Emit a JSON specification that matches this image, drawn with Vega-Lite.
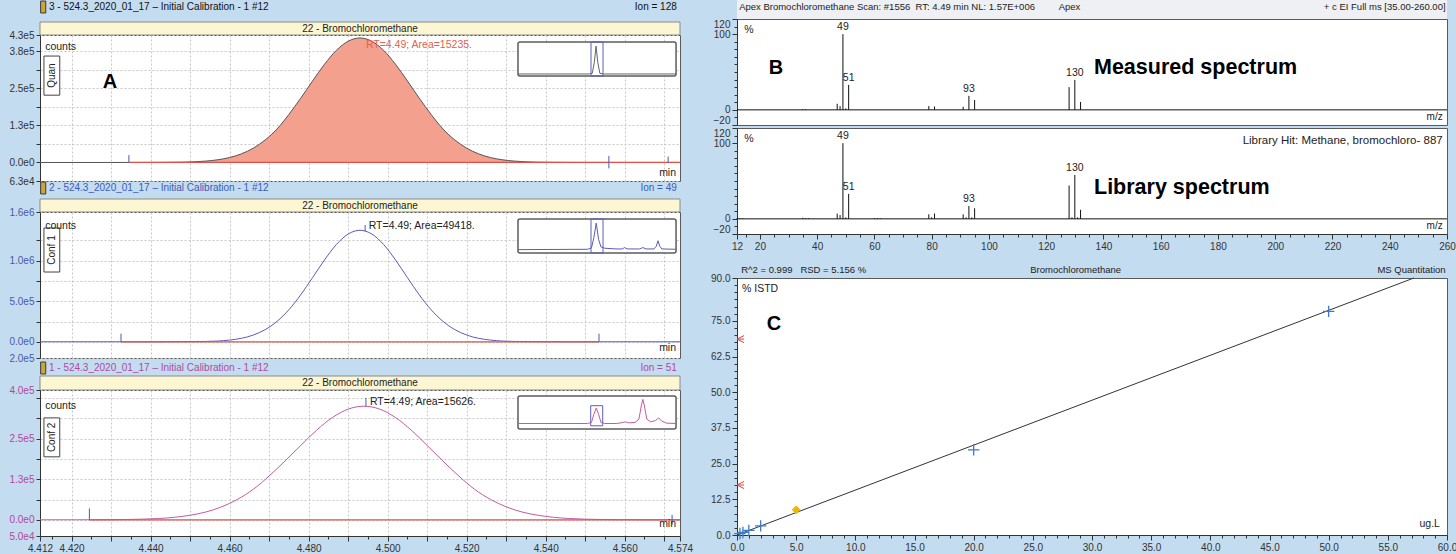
{
"$schema": "https://vega.github.io/schema/vega-lite/v6.json",
"padding": {"left": 8, "top": 0, "right": 0, "bottom": 0},
"background": "#c4dcf0",
"bounds": "full",
"spacing": 16,
"datasets": {
 "quan": [{"t":4.412,"c":0},{"t":4.43,"c":0},{"t":4.442,"c":200},{"t":4.448,"c":1000},{"t":4.451,"c":2300},{"t":4.454,"c":4700},{"t":4.457,"c":9100},{"t":4.46,"c":16700},{"t":4.463,"c":29200},{"t":4.466,"c":48300},{"t":4.469,"c":76000},{"t":4.472,"c":113000},{"t":4.475,"c":162000},{"t":4.478,"c":217000},{"t":4.481,"c":275000},{"t":4.484,"c":331000},{"t":4.487,"c":378000},{"t":4.49,"c":409000},{"t":4.493,"c":420000},{"t":4.496,"c":409000},{"t":4.499,"c":378000},{"t":4.502,"c":331000},{"t":4.505,"c":275000},{"t":4.508,"c":217000},{"t":4.511,"c":162000},{"t":4.514,"c":113000},{"t":4.517,"c":76000},{"t":4.52,"c":48300},{"t":4.523,"c":29200},{"t":4.526,"c":16700},{"t":4.529,"c":9100},{"t":4.532,"c":4700},{"t":4.535,"c":2300},{"t":4.538,"c":1000},{"t":4.545,"c":200},{"t":4.556,"c":0},{"t":4.574,"c":0}],
 "conf1": [{"t":4.412,"c":0},{"t":4.44,"c":0},{"t":4.45,"c":1500},{"t":4.454,"c":4000},{"t":4.457,"c":9000},{"t":4.46,"c":21000},{"t":4.463,"c":43000},{"t":4.466,"c":83000},{"t":4.469,"c":150000},{"t":4.472,"c":252000},{"t":4.475,"c":395000},{"t":4.478,"c":579000},{"t":4.481,"c":791000},{"t":4.484,"c":1008000},{"t":4.487,"c":1198000},{"t":4.49,"c":1328000},{"t":4.493,"c":1375000},{"t":4.496,"c":1328000},{"t":4.499,"c":1198000},{"t":4.502,"c":1008000},{"t":4.505,"c":791000},{"t":4.508,"c":579000},{"t":4.511,"c":395000},{"t":4.514,"c":252000},{"t":4.517,"c":150000},{"t":4.52,"c":83000},{"t":4.523,"c":43000},{"t":4.526,"c":21000},{"t":4.529,"c":9000},{"t":4.532,"c":4000},{"t":4.536,"c":1500},{"t":4.546,"c":0},{"t":4.574,"c":0}],
 "conf2": [{"t":4.412,"c":0},{"t":4.425,"c":0},{"t":4.43,"c":400},{"t":4.434,"c":900},{"t":4.438,"c":1900},{"t":4.442,"c":3900},{"t":4.446,"c":7600},{"t":4.45,"c":14000},{"t":4.454,"c":24000},{"t":4.458,"c":40000},{"t":4.462,"c":63000},{"t":4.466,"c":94000},{"t":4.47,"c":135000},{"t":4.474,"c":181000},{"t":4.478,"c":229000},{"t":4.482,"c":276000},{"t":4.486,"c":315000},{"t":4.49,"c":341000},{"t":4.494,"c":350000},{"t":4.498,"c":341000},{"t":4.502,"c":315000},{"t":4.506,"c":276000},{"t":4.51,"c":229000},{"t":4.514,"c":181000},{"t":4.518,"c":135000},{"t":4.522,"c":94000},{"t":4.526,"c":63000},{"t":4.53,"c":40000},{"t":4.534,"c":24000},{"t":4.538,"c":14000},{"t":4.542,"c":7600},{"t":4.546,"c":3900},{"t":4.55,"c":1900},{"t":4.554,"c":900},{"t":4.558,"c":400},{"t":4.565,"c":0},{"t":4.574,"c":0}],
 "meas": [{"mz":35,"i":1},{"mz":36,"i":0.8},{"mz":47,"i":8},{"mz":48,"i":5},{"mz":49,"i":100},{"mz":50,"i":2},{"mz":51,"i":33},{"mz":79,"i":5},{"mz":81,"i":4.5},{"mz":91,"i":4},{"mz":93,"i":18.5},{"mz":95,"i":13},{"mz":128,"i":30},{"mz":130,"i":39.6},{"mz":132,"i":10.5}],
 "lib": [{"mz":12,"i":1},{"mz":13,"i":1},{"mz":14,"i":1},{"mz":35,"i":1.5},{"mz":36,"i":1},{"mz":37,"i":1},{"mz":47,"i":7},{"mz":48,"i":5},{"mz":49,"i":100},{"mz":50,"i":2},{"mz":51,"i":33},{"mz":60,"i":1},{"mz":61,"i":1},{"mz":62,"i":1},{"mz":79,"i":6},{"mz":80,"i":2},{"mz":81,"i":7},{"mz":91,"i":6},{"mz":92,"i":2},{"mz":93,"i":17},{"mz":94,"i":2},{"mz":95,"i":14},{"mz":128,"i":44},{"mz":129,"i":2},{"mz":130,"i":58},{"mz":131,"i":2},{"mz":132,"i":12}]
},
"hconcat": [
 {"spacing": 0, "bounds": "flush", "vconcat": [
  {"width": 640, "height": 35, "view": {"fill": null, "stroke": null},
   "encoding": {"x": {"field": "x", "type": "quantitative", "scale": {"domain": [0, 1], "nice": false}, "axis": null}, "y": {"field": "y", "type": "quantitative", "scale": {"domain": [0, 35], "nice": false}, "axis": null}},
   "layer": [
    {"data": {"values": [{"x": 0, "x2": 1, "y": 0, "y2": 13}]}, "mark": {"type": "rect", "fill": "#fdf6d3", "stroke": "#8a8a8a", "strokeWidth": 1}, "encoding": {"x2": {"field": "x2"}, "y2": {"field": "y2"}}},
    {"data": {"values": [{"x": 0.001, "x2": 0.009, "y": 22, "y2": 34}]}, "mark": {"type": "rect", "fill": "#c9a63a", "stroke": "#3a3a3a", "strokeWidth": 1}, "encoding": {"x2": {"field": "x2"}, "y2": {"field": "y2"}}},
    {"data": {"values": [{"x": 0.5, "y": 6.5, "s": "22 - Bromochloromethane"}]}, "mark": {"type": "text", "fontSize": 10, "color": "#222"}, "encoding": {"text": {"field": "s"}}},
    {"data": {"values": [{"x": 0.014, "y": 28, "s": "3 - 524.3_2020_01_17 – Initial Calibration - 1 #12"}]}, "mark": {"type": "text", "align": "left", "fontSize": 10, "color": "#111"}, "encoding": {"text": {"field": "s"}}},
    {"data": {"values": [{"x": 0.995, "y": 28, "s": "Ion = 128"}]}, "mark": {"type": "text", "align": "right", "fontSize": 10, "color": "#111"}, "encoding": {"text": {"field": "s"}}}
   ]},
  {"width": 640, "height": 146,
   "resolve": {"scale": {"x": "independent", "y": "independent"}},
   "layer": [
    {"encoding": {
      "x": {"field": "t", "type": "quantitative", "title": null, "scale": {"domain": [4.412, 4.574], "nice": false, "zero": false}, "axis": {"title": null, "values": [4.42,4.43,4.44,4.45,4.46,4.47,4.48,4.49,4.5,4.51,4.52,4.53,4.54,4.55,4.56,4.57], "labels": false, "ticks": false, "domain": false, "grid": true}},
      "y": {"field": "c", "type": "quantitative", "title": null, "scale": {"domain": [-62500, 430000], "nice": false, "zero": false}, "axis": {"title": null, "grid": true, "values": [-62500, 0, 62500, 125000, 187500, 250000, 312500, 375000, 430000], "labelExpr": "datum.value==430000?'4.3e5':datum.value==375000?'3.8e5':datum.value==250000?'2.5e5':datum.value==125000?'1.3e5':datum.value==0?'0.0e0':datum.value==-62500?'6.3e4':''", "labelColor": "#333"}}},
     "layer": [
      {"data": {"name": "quan"}, "mark": {"type": "area", "color": "#f4a08f", "interpolate": "monotone"}, "encoding": {"y2": {"datum": 0}}},
      {"data": {"name": "quan"}, "mark": {"type": "line", "color": "#555555", "strokeWidth": 1, "interpolate": "monotone"}},
      {"data": {"values": [{"t": 4.4345, "t2": 4.574, "c": 0}]}, "mark": {"type": "rule", "color": "#e0514a", "strokeWidth": 1.3}, "encoding": {"x2": {"field": "t2"}}},
      {"data": {"values": [{"t": 4.4345, "c": 0, "c2": 25000}, {"t": 4.556, "c": -20000, "c2": 22000}, {"t": 4.571, "c": 0, "c2": 20000}]}, "mark": {"type": "rule", "color": "#4a5bb0"}, "encoding": {"y2": {"field": "c2"}}},
      {"data": {"values": [{"t": 4.413, "t2": 4.417, "c": 227000, "c2": 359000}]}, "mark": {"type": "rect", "fill": "white", "stroke": "#444", "strokeWidth": 1}, "encoding": {"x2": {"field": "t2"}, "y2": {"field": "c2"}}},
      {"data": {"values": [{"t": 4.415, "c": 293000, "s": "Quan"}]}, "mark": {"type": "text", "angle": 270, "fontSize": 10}, "encoding": {"text": {"field": "s"}}},
      {"data": {"values": [{"t": 4.4133, "c": 390000, "s": "counts"}]}, "mark": {"type": "text", "align": "left", "fontSize": 10.5}, "encoding": {"text": {"field": "s"}}},
      {"data": {"values": [{"t": 4.4945, "c": 396000, "s": "RT=4.49; Area=15235."}]}, "mark": {"type": "text", "align": "left", "fontSize": 10.5, "color": "#e5604d"}, "encoding": {"text": {"field": "s"}}},
      {"data": {"values": [{"t": 4.573, "c": -36000, "s": "min"}]}, "mark": {"type": "text", "align": "right", "fontSize": 10.5}, "encoding": {"text": {"field": "s"}}},
      {"data": {"values": [{"t": 4.4297, "c": 271000, "s": "A"}]}, "mark": {"type": "text", "fontSize": 20, "fontWeight": "bold", "font": "Liberation Sans", "color": "#000"}, "encoding": {"text": {"field": "s"}}}
     ]},
    {"encoding": {
      "x": {"field": "u", "type": "quantitative", "scale": {"domain": [-302.4, 102.5], "nice": false, "zero": false}, "axis": null},
      "y": {"field": "v", "type": "quantitative", "scale": {"domain": [-308.6, 120.6], "nice": false, "zero": false}, "axis": null}},
     "layer": [
      {"data": {"values": [{"u": 0, "u2": 100, "v": 0, "v2": 100}]}, "mark": {"type": "rect", "fill": "white", "stroke": "#5c5c5c", "strokeWidth": 1.5, "cornerRadius": 2}, "encoding": {"x2": {"field": "u2"}, "y2": {"field": "v2"}}},
      {"data": {"values": [{"u": 46.2, "u2": 53.8, "v": 0, "v2": 100}]}, "mark": {"type": "rect", "fill": "white", "fillOpacity": 0, "stroke": "#5b5fc4", "strokeWidth": 1}, "encoding": {"x2": {"field": "u2"}, "y2": {"field": "v2"}}},
      {"data": {"values": [{"u":0,"v":6},{"u":45,"v":6},{"u":47,"v":8},{"u":48.3,"v":40},{"u":49.4,"v":88},{"u":50.5,"v":40},{"u":51.8,"v":8},{"u":54,"v":6},{"u":100,"v":6}]}, "mark": {"type": "line", "color": "#666", "strokeWidth": 1}}
     ]}
   ]},
  {"width": 640, "height": 31, "view": {"fill": null, "stroke": null},
   "encoding": {"x": {"field": "x", "type": "quantitative", "scale": {"domain": [0, 1], "nice": false}, "axis": null}, "y": {"field": "y", "type": "quantitative", "scale": {"domain": [0, 31], "nice": false}, "axis": null}},
   "layer": [
    {"data": {"values": [{"x": 0, "x2": 1, "y": 0, "y2": 13}]}, "mark": {"type": "rect", "fill": "#fdf6d3", "stroke": "#8a8a8a", "strokeWidth": 1}, "encoding": {"x2": {"field": "x2"}, "y2": {"field": "y2"}}},
    {"data": {"values": [{"x": 0.001, "x2": 0.009, "y": 18, "y2": 30}]}, "mark": {"type": "rect", "fill": "#c9a63a", "stroke": "#3a3a3a", "strokeWidth": 1}, "encoding": {"x2": {"field": "x2"}, "y2": {"field": "y2"}}},
    {"data": {"values": [{"x": 0.5, "y": 6.5, "s": "22 - Bromochloromethane"}]}, "mark": {"type": "text", "fontSize": 10, "color": "#222"}, "encoding": {"text": {"field": "s"}}},
    {"data": {"values": [{"x": 0.014, "y": 24, "s": "2 - 524.3_2020_01_17 – Initial Calibration - 1 #12"}]}, "mark": {"type": "text", "align": "left", "fontSize": 10, "color": "#3d5bb8"}, "encoding": {"text": {"field": "s"}}},
    {"data": {"values": [{"x": 0.995, "y": 24, "s": "Ion = 49"}]}, "mark": {"type": "text", "align": "right", "fontSize": 10, "color": "#3d5bb8"}, "encoding": {"text": {"field": "s"}}}
   ]},
  {"width": 640, "height": 146,
   "resolve": {"scale": {"x": "independent", "y": "independent"}},
   "layer": [
    {"encoding": {
      "x": {"field": "t", "type": "quantitative", "title": null, "scale": {"domain": [4.412, 4.574], "nice": false, "zero": false}, "axis": {"title": null, "values": [4.42,4.43,4.44,4.45,4.46,4.47,4.48,4.49,4.5,4.51,4.52,4.53,4.54,4.55,4.56,4.57], "labels": false, "ticks": false, "domain": false, "grid": true}},
      "y": {"field": "c", "type": "quantitative", "title": null, "scale": {"domain": [-200000, 1600000], "nice": false, "zero": false}, "axis": {"title": null, "grid": true, "values": [-200000, 0, 250000, 500000, 750000, 1000000, 1250000, 1600000], "labelExpr": "datum.value==1600000?'1.6e6':datum.value==1000000?'1.0e6':datum.value==500000?'5.0e5':datum.value==0?'0.0e0':datum.value==-200000?'2.0e5':''", "labelColor": "#4b58ab"}}},
     "layer": [
      {"data": {"name": "conf1"}, "mark": {"type": "line", "color": "#5b5cb3", "strokeWidth": 1, "interpolate": "monotone"}},
      {"data": {"values": [{"t": 4.4325, "t2": 4.5535, "c": 0}]}, "mark": {"type": "rule", "color": "#e0514a", "strokeWidth": 1.3}, "encoding": {"x2": {"field": "t2"}}},
      {"data": {"values": [{"t": 4.4325, "c": 0, "c2": 100000}, {"t": 4.5535, "c": 0, "c2": 100000}, {"t": 4.4943, "c": 1360000, "c2": 1440000}]}, "mark": {"type": "rule", "color": "#4a5bb0"}, "encoding": {"y2": {"field": "c2"}}},
      {"data": {"values": [{"t": 4.413, "t2": 4.417, "c": 860000, "c2": 1403000}]}, "mark": {"type": "rect", "fill": "white", "stroke": "#444", "strokeWidth": 1}, "encoding": {"x2": {"field": "t2"}, "y2": {"field": "c2"}}},
      {"data": {"values": [{"t": 4.415, "c": 1131000, "s": "Conf 1"}]}, "mark": {"type": "text", "angle": 270, "fontSize": 10}, "encoding": {"text": {"field": "s"}}},
      {"data": {"values": [{"t": 4.4133, "c": 1428000, "s": "counts"}]}, "mark": {"type": "text", "align": "left", "fontSize": 10.5}, "encoding": {"text": {"field": "s"}}},
      {"data": {"values": [{"t": 4.4952, "c": 1428000, "s": "RT=4.49; Area=49418."}]}, "mark": {"type": "text", "align": "left", "fontSize": 10.5, "color": "#222"}, "encoding": {"text": {"field": "s"}}},
      {"data": {"values": [{"t": 4.573, "c": -76000, "s": "min"}]}, "mark": {"type": "text", "align": "right", "fontSize": 10.5}, "encoding": {"text": {"field": "s"}}}
     ]},
    {"encoding": {
      "x": {"field": "u", "type": "quantitative", "scale": {"domain": [-302.4, 102.5], "nice": false, "zero": false}, "axis": null},
      "y": {"field": "v", "type": "quantitative", "scale": {"domain": [-308.6, 120.6], "nice": false, "zero": false}, "axis": null}},
     "layer": [
      {"data": {"values": [{"u": 0, "u2": 100, "v": 0, "v2": 100}]}, "mark": {"type": "rect", "fill": "white", "stroke": "#5c5c5c", "strokeWidth": 1.5, "cornerRadius": 2}, "encoding": {"x2": {"field": "u2"}, "y2": {"field": "v2"}}},
      {"data": {"values": [{"u": 46.2, "u2": 53.8, "v": 0, "v2": 100}]}, "mark": {"type": "rect", "fill": "white", "fillOpacity": 0, "stroke": "#5b5fc4", "strokeWidth": 1}, "encoding": {"x2": {"field": "u2"}, "y2": {"field": "v2"}}},
      {"data": {"values": [{"u":0,"v":10},{"u":44,"v":11},{"u":46.5,"v":15},{"u":48,"v":45},{"u":49.5,"v":88},{"u":51,"v":40},{"u":52.5,"v":18},{"u":55,"v":14},{"u":62,"v":12},{"u":66,"v":12},{"u":67.5,"v":16},{"u":69,"v":12},{"u":77,"v":12},{"u":79,"v":16},{"u":81,"v":12},{"u":86,"v":12},{"u":87.5,"v":20},{"u":88.6,"v":36},{"u":89.7,"v":20},{"u":91,"v":12},{"u":100,"v":11}]}, "mark": {"type": "line", "color": "#5b5cb3", "strokeWidth": 1}}
     ]}
   ]},
  {"width": 640, "height": 32, "view": {"fill": null, "stroke": null},
   "encoding": {"x": {"field": "x", "type": "quantitative", "scale": {"domain": [0, 1], "nice": false}, "axis": null}, "y": {"field": "y", "type": "quantitative", "scale": {"domain": [0, 32], "nice": false}, "axis": null}},
   "layer": [
    {"data": {"values": [{"x": 0, "x2": 1, "y": 0, "y2": 14}]}, "mark": {"type": "rect", "fill": "#fdf6d3", "stroke": "#8a8a8a", "strokeWidth": 1}, "encoding": {"x2": {"field": "x2"}, "y2": {"field": "y2"}}},
    {"data": {"values": [{"x": 0.001, "x2": 0.009, "y": 16, "y2": 28}]}, "mark": {"type": "rect", "fill": "#c9a63a", "stroke": "#3a3a3a", "strokeWidth": 1}, "encoding": {"x2": {"field": "x2"}, "y2": {"field": "y2"}}},
    {"data": {"values": [{"x": 0.5, "y": 7, "s": "22 - Bromochloromethane"}]}, "mark": {"type": "text", "fontSize": 10, "color": "#222"}, "encoding": {"text": {"field": "s"}}},
    {"data": {"values": [{"x": 0.014, "y": 22, "s": "1 - 524.3_2020_01_17 – Initial Calibration - 1 #12"}]}, "mark": {"type": "text", "align": "left", "fontSize": 10, "color": "#b04a9c"}, "encoding": {"text": {"field": "s"}}},
    {"data": {"values": [{"x": 0.995, "y": 22, "s": "Ion = 51"}]}, "mark": {"type": "text", "align": "right", "fontSize": 10, "color": "#b04a9c"}, "encoding": {"text": {"field": "s"}}}
   ]},
  {"width": 640, "height": 146,
   "resolve": {"scale": {"x": "independent", "y": "independent"}},
   "layer": [
    {"encoding": {
      "x": {"field": "t", "type": "quantitative", "title": null, "scale": {"domain": [4.412, 4.574], "nice": false, "zero": false}, "axis": {"title": null, "values": [4.412,4.415,4.42,4.425,4.43,4.435,4.44,4.445,4.45,4.455,4.46,4.465,4.47,4.475,4.48,4.485,4.49,4.495,4.5,4.505,4.51,4.515,4.52,4.525,4.53,4.535,4.54,4.545,4.55,4.555,4.56,4.565,4.57,4.574], "labelExpr": "(round(datum.value*1000) % 20 == 0 || round(datum.value*1000) == 4412 || round(datum.value*1000) == 4574) ? format(datum.value, '.3f') : ''", "grid": true, "gridOpacity": {"condition": {"test": "round(datum.value*1000) % 10 == 0", "value": 1}, "value": 0}, "tickSize": {"condition": {"test": "round(datum.value*1000) % 10 == 0 || round(datum.value*1000) == 4412 || round(datum.value*1000) == 4574", "value": 5}, "value": 3}}},
      "y": {"field": "c", "type": "quantitative", "title": null, "scale": {"domain": [-50000, 400000], "nice": false, "zero": false}, "axis": {"title": null, "grid": true, "values": [-50000, 0, 62500, 125000, 187500, 250000, 312500, 375000, 400000], "labelExpr": "datum.value==400000?'4.0e5':datum.value==250000?'2.5e5':datum.value==125000?'1.3e5':datum.value==0?'0.0e0':datum.value==-50000?'5.0e4':''", "labelColor": "#b4479b"}}},
     "layer": [
      {"data": {"name": "conf2"}, "mark": {"type": "line", "color": "#c55aa0", "strokeWidth": 1, "interpolate": "monotone"}},
      {"data": {"values": [{"t": 4.4245, "t2": 4.574, "c": 0}]}, "mark": {"type": "rule", "color": "#e0514a", "strokeWidth": 1.3}, "encoding": {"x2": {"field": "t2"}}},
      {"data": {"values": [{"t": 4.4245, "c": 0, "c2": 35000}, {"t": 4.572, "c": -15000, "c2": 15000}, {"t": 4.4945, "c": 350000, "c2": 376000}]}, "mark": {"type": "rule", "color": "#4a5bb0"}, "encoding": {"y2": {"field": "c2"}}},
      {"data": {"values": [{"t": 4.413, "t2": 4.417, "c": 194000, "c2": 314000}]}, "mark": {"type": "rect", "fill": "white", "stroke": "#444", "strokeWidth": 1}, "encoding": {"x2": {"field": "t2"}, "y2": {"field": "c2"}}},
      {"data": {"values": [{"t": 4.415, "c": 254000, "s": "Conf 2"}]}, "mark": {"type": "text", "angle": 270, "fontSize": 10}, "encoding": {"text": {"field": "s"}}},
      {"data": {"values": [{"t": 4.4133, "c": 351000, "s": "counts"}]}, "mark": {"type": "text", "align": "left", "fontSize": 10.5}, "encoding": {"text": {"field": "s"}}},
      {"data": {"values": [{"t": 4.4955, "c": 363500, "s": "RT=4.49; Area=15626."}]}, "mark": {"type": "text", "align": "left", "fontSize": 10.5, "color": "#222"}, "encoding": {"text": {"field": "s"}}},
      {"data": {"values": [{"t": 4.573, "c": -14000, "s": "min"}]}, "mark": {"type": "text", "align": "right", "fontSize": 10.5}, "encoding": {"text": {"field": "s"}}}
     ]},
    {"encoding": {
      "x": {"field": "u", "type": "quantitative", "scale": {"domain": [-302.4, 102.5], "nice": false, "zero": false}, "axis": null},
      "y": {"field": "v", "type": "quantitative", "scale": {"domain": [-324, 118.5], "nice": false, "zero": false}, "axis": null}},
     "layer": [
      {"data": {"values": [{"u": 0, "u2": 100, "v": 0, "v2": 100}]}, "mark": {"type": "rect", "fill": "white", "stroke": "#5c5c5c", "strokeWidth": 1.5, "cornerRadius": 2}, "encoding": {"x2": {"field": "u2"}, "y2": {"field": "v2"}}},
      {"data": {"values": [{"u": 46, "u2": 53.6, "v": 10, "v2": 71}]}, "mark": {"type": "rect", "fill": "white", "fillOpacity": 0, "stroke": "#5b5fc4", "strokeWidth": 1}, "encoding": {"x2": {"field": "u2"}, "y2": {"field": "v2"}}},
      {"data": {"values": [{"u":0,"v":17},{"u":44,"v":17},{"u":46.5,"v":20},{"u":48,"v":45},{"u":49.5,"v":64},{"u":51,"v":45},{"u":52.5,"v":20},{"u":55,"v":17},{"u":63,"v":17},{"u":66,"v":20},{"u":68,"v":22},{"u":70,"v":19},{"u":74,"v":20},{"u":76.5,"v":30},{"u":78,"v":70},{"u":79,"v":90},{"u":80,"v":70},{"u":81.5,"v":30},{"u":84,"v":22},{"u":87,"v":26},{"u":89,"v":34},{"u":91,"v":24},{"u":94,"v":18},{"u":100,"v":17}]}, "mark": {"type": "line", "color": "#c55aa0", "strokeWidth": 1}}
     ]}
   ]}
 ]},
 {"spacing": 0, "bounds": "flush", "vconcat": [
  {"width": 710, "height": 19, "view": {"fill": "#eef0f3", "stroke": null},
   "encoding": {"x": {"field": "x", "type": "quantitative", "scale": {"domain": [0, 1], "nice": false}, "axis": null}, "y": {"field": "y", "type": "quantitative", "scale": {"domain": [0, 19], "nice": false}, "axis": null}, "text": {"field": "s"}},
   "layer": [
    {"data": {"values": [{"x": 0.003, "y": 12, "s": "Apex Bromochloromethane Scan: #1556\u00a0\u00a0RT: 4.49 min NL: 1.57E+006\u00a0\u00a0\u00a0\u00a0\u00a0\u00a0\u00a0\u00a0\u00a0Apex"}]}, "mark": {"type": "text", "align": "left", "fontSize": 9.5, "color": "#222"}},
    {"data": {"values": [{"x": 0.998, "y": 12, "s": "+ c EI Full ms [35.00-260.00]"}]}, "mark": {"type": "text", "align": "right", "fontSize": 9.5, "color": "#222"}}
   ]},
  {"width": 710, "height": 106,
   "encoding": {
    "x": {"field": "mz", "type": "quantitative", "title": null, "scale": {"domain": [12, 260], "nice": false, "zero": false}, "axis": null},
    "y": {"field": "i", "type": "quantitative", "title": null, "scale": {"domain": [-20, 120], "nice": false, "zero": false}, "axis": {"title": null, "grid": false, "labelFlush": true, "values": [-20,-10,0,10,20,30,40,50,60,70,80,90,100,110,120], "labelExpr": "indexof([-20,0,100,120], datum.value) >= 0 ? datum.label : ''", "tickSize": {"condition": {"test": "indexof([-20,0,100,120], datum.value) >= 0", "value": 5}, "value": 3}}}},
   "layer": [
    {"data": {"name": "meas"}, "mark": {"type": "rule", "color": "#111", "strokeWidth": 1}, "encoding": {"y2": {"datum": 0}}},
    {"data": {"values": [{"mz": 12, "mz2": 260, "i": 0}]}, "mark": {"type": "rule", "color": "#111"}, "encoding": {"x2": {"field": "mz2"}}},
    {"data": {"values": [{"mz": 49, "i": 100, "s": "49"}, {"mz": 51, "i": 33, "s": "51"}, {"mz": 93, "i": 18.5, "s": "93"}, {"mz": 130, "i": 39.6, "s": "130"}]}, "mark": {"type": "text", "dy": -7, "fontSize": 10.5}, "encoding": {"text": {"field": "s"}}},
    {"data": {"values": [{"mz": 14.5, "i": 106, "s": "%"}]}, "mark": {"type": "text", "align": "left", "fontSize": 10.5}, "encoding": {"text": {"field": "s"}}},
    {"data": {"values": [{"mz": 258.5, "i": -9, "s": "m/z"}]}, "mark": {"type": "text", "align": "right", "fontSize": 10}, "encoding": {"text": {"field": "s"}}},
    {"data": {"values": [{"mz": 25.6, "i": 55.5, "s": "B"}]}, "mark": {"type": "text", "fontSize": 20, "fontWeight": "bold", "font": "Liberation Sans", "color": "#000"}, "encoding": {"text": {"field": "s"}}},
    {"data": {"values": [{"mz": 136.7, "i": 55.5, "s": "Measured spectrum"}]}, "mark": {"type": "text", "align": "left", "fontSize": 21.5, "fontWeight": "bold", "font": "Liberation Sans", "color": "#000"}, "encoding": {"text": {"field": "s"}}}
   ]},
  {"width": 710, "height": 3, "view": {"fill": null, "stroke": null}, "data": {"values": [{"s": ""}]}, "mark": {"type": "text"}, "encoding": {"text": {"field": "s"}}},
  {"width": 710, "height": 106,
   "encoding": {
    "x": {"field": "mz", "type": "quantitative", "title": null, "scale": {"domain": [12, 260], "nice": false, "zero": false}, "axis": {"title": null, "grid": false, "values": [12,15,20,25,30,35,40,45,50,55,60,65,70,75,80,85,90,95,100,105,110,115,120,125,130,135,140,145,150,155,160,165,170,175,180,185,190,195,200,205,210,215,220,225,230,235,240,245,250,255,260], "labelExpr": "(datum.value == 12 || datum.value % 20 == 0) ? datum.label : ''", "tickSize": {"condition": {"test": "datum.value == 12 || datum.value % 20 == 0", "value": 5}, "value": 3}}},
    "y": {"field": "i", "type": "quantitative", "title": null, "scale": {"domain": [-20, 120], "nice": false, "zero": false}, "axis": {"title": null, "grid": false, "labelFlush": true, "values": [-20,-10,0,10,20,30,40,50,60,70,80,90,100,110,120], "labelExpr": "indexof([-20,0,100,120], datum.value) >= 0 ? datum.label : ''", "tickSize": {"condition": {"test": "indexof([-20,0,100,120], datum.value) >= 0", "value": 5}, "value": 3}}}},
   "layer": [
    {"data": {"name": "lib"}, "mark": {"type": "rule", "color": "#111", "strokeWidth": 1}, "encoding": {"y2": {"datum": 0}}},
    {"data": {"values": [{"mz": 12, "mz2": 260, "i": 0}]}, "mark": {"type": "rule", "color": "#111"}, "encoding": {"x2": {"field": "mz2"}}},
    {"data": {"values": [{"mz": 49, "i": 100, "s": "49"}, {"mz": 51, "i": 33, "s": "51"}, {"mz": 93, "i": 17, "s": "93"}, {"mz": 130, "i": 58, "s": "130"}]}, "mark": {"type": "text", "dy": -7, "fontSize": 10.5}, "encoding": {"text": {"field": "s"}}},
    {"data": {"values": [{"mz": 14.5, "i": 106, "s": "%"}]}, "mark": {"type": "text", "align": "left", "fontSize": 10.5}, "encoding": {"text": {"field": "s"}}},
    {"data": {"values": [{"mz": 258.5, "i": 103, "s": "Library Hit: Methane, bromochloro- 887"}]}, "mark": {"type": "text", "align": "right", "fontSize": 11.5}, "encoding": {"text": {"field": "s"}}},
    {"data": {"values": [{"mz": 258.5, "i": -9, "s": "m/z"}]}, "mark": {"type": "text", "align": "right", "fontSize": 10}, "encoding": {"text": {"field": "s"}}},
    {"data": {"values": [{"mz": 136.7, "i": 41, "s": "Library spectrum"}]}, "mark": {"type": "text", "align": "left", "fontSize": 21.5, "fontWeight": "bold", "font": "Liberation Sans", "color": "#000"}, "encoding": {"text": {"field": "s"}}}
   ]},
  {"width": 710, "height": 28, "view": {"fill": null, "stroke": null}, "data": {"values": [{"s": ""}]}, "mark": {"type": "text"}, "encoding": {"text": {"field": "s"}}},
  {"width": 710, "height": 16, "view": {"fill": null, "stroke": null},
   "encoding": {"x": {"field": "x", "type": "quantitative", "scale": {"domain": [0, 1], "nice": false}, "axis": null}, "y": {"field": "y", "type": "quantitative", "scale": {"domain": [0, 16], "nice": false}, "axis": null}, "text": {"field": "s"}},
   "layer": [
    {"data": {"values": [{"x": 0.006, "y": 8, "s": "R^2 = 0.999\u00a0\u00a0\u00a0RSD = 5.156 %"}]}, "mark": {"type": "text", "align": "left", "fontSize": 9.5, "color": "#222"}},
    {"data": {"values": [{"x": 0.477, "y": 8, "s": "Bromochloromethane"}]}, "mark": {"type": "text", "align": "center", "fontSize": 9.5, "color": "#222"}},
    {"data": {"values": [{"x": 0.998, "y": 8, "s": "MS Quantitation"}]}, "mark": {"type": "text", "align": "right", "fontSize": 9.5, "color": "#222"}}
   ]},
  {"width": 710, "height": 257,
   "encoding": {
    "x": {"field": "x", "type": "quantitative", "title": null, "scale": {"domain": [0, 60], "nice": false, "zero": false}, "axis": {"title": null, "grid": false, "values": [0,1,2,3,4,5,6,7,8,9,10,11,12,13,14,15,16,17,18,19,20,21,22,23,24,25,26,27,28,29,30,31,32,33,34,35,36,37,38,39,40,41,42,43,44,45,46,47,48,49,50,51,52,53,54,55,56,57,58,59,60], "labelExpr": "datum.value % 5 == 0 ? format(datum.value, '.1f') : ''", "tickSize": {"condition": {"test": "datum.value % 5 == 0", "value": 5}, "value": 3}}},
    "y": {"field": "y", "type": "quantitative", "title": null, "scale": {"domain": [0, 90], "nice": false, "zero": false}, "axis": {"title": null, "grid": false, "values": [0,2.5,5,7.5,10,12.5,15,17.5,20,22.5,25,27.5,30,32.5,35,37.5,40,42.5,45,47.5,50,52.5,55,57.5,60,62.5,65,67.5,70,72.5,75,77.5,80,82.5,85,87.5,90], "labelExpr": "indexof([0,12.5,25,37.5,50,62.5,75,90], datum.value) >= 0 ? format(datum.value, '.1f') : ''", "tickSize": {"condition": {"test": "indexof([0,12.5,25,37.5,50,62.5,75,90], datum.value) >= 0", "value": 5}, "value": 3}}}},
   "layer": [
    {"data": {"values": [{"x": 0, "y": 0}, {"x": 57.2, "y": 90}]}, "mark": {"type": "line", "color": "#333", "strokeWidth": 1}},
    {"data": {"values": [{"x": 0.25, "y": 0.5}, {"x": 0.5, "y": 0.9}, {"x": 1, "y": 1.6}, {"x": 2, "y": 3.2}, {"x": 20, "y": 29.8}, {"x": 50, "y": 78.3}]}, "mark": {"type": "point", "shape": "M-1,0L1,0M0,-1L0,1", "color": "#3b7cc4", "strokeWidth": 1.3, "size": 130, "filled": false, "opacity": 1}},
    {"data": {"values": [{"x": 5, "y": 8.8}]}, "mark": {"type": "point", "shape": "diamond", "filled": true, "color": "#f1b400", "size": 80, "opacity": 1}},
    {"data": {"values": [{"x": 0.3, "y": 68.6}, {"x": 0.3, "y": 17.5}]}, "mark": {"type": "point", "shape": "M1,-1L-1,0L1,1M-1,0L1,0", "color": "#d4413f", "filled": false, "size": 50, "strokeWidth": 1, "opacity": 1}},
    {"data": {"values": [{"x": 0.42, "y": 86.1, "s": "% ISTD"}]}, "mark": {"type": "text", "align": "left", "fontSize": 10.5}, "encoding": {"text": {"field": "s"}}},
    {"data": {"values": [{"x": 59.4, "y": 3.9, "s": "ug.L"}]}, "mark": {"type": "text", "align": "right", "fontSize": 10.5}, "encoding": {"text": {"field": "s"}}},
    {"data": {"values": [{"x": 3.13, "y": 73.9, "s": "C"}]}, "mark": {"type": "text", "fontSize": 20, "fontWeight": "bold", "font": "Liberation Sans", "color": "#000"}, "encoding": {"text": {"field": "s"}}}
   ]}
 ]}
],
"config": {
 "font": "Liberation Sans, sans-serif",
 "view": {"fill": "white", "stroke": "#5a5a5a", "strokeWidth": 1},
 "axis": {"labelFontSize": 10, "labelColor": "#333", "tickColor": "#333", "domainColor": "#333", "tickSize": 4, "labelPadding": 2, "gridColor": "#c8c8c8", "gridDash": [2, 2], "labelOverlap": false, "labelFlush": false},
 "text": {"fontSize": 11, "color": "#222"}
}
}
